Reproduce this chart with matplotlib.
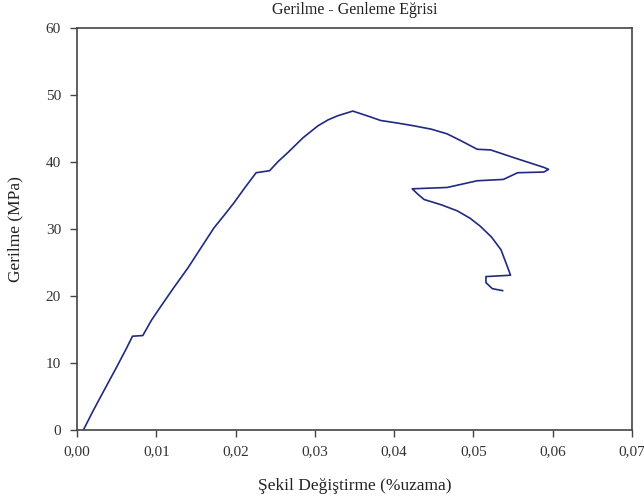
import matplotlib
matplotlib.use("Agg")
import matplotlib.pyplot as plt

strain = [0.0008, 0.0020, 0.00345, 0.0050, 0.0062, 0.0070, 0.0083, 0.0094, 0.0106, 0.0123,
          0.0140, 0.0157, 0.0173, 0.0186, 0.0198, 0.0212, 0.0226, 0.0243, 0.0254, 0.0266,
          0.0285, 0.0304, 0.0317, 0.0329, 0.0348, 0.0371, 0.0383, 0.0405, 0.0425, 0.0447,
          0.0467, 0.0484, 0.0505, 0.0522, 0.0555, 0.0589, 0.0595, 0.0589, 0.0556, 0.0538,
          0.0505, 0.0467, 0.0423, 0.0430, 0.0438, 0.0460, 0.0480, 0.0496, 0.0509, 0.0523,
          0.0535, 0.0543, 0.0547, 0.0516, 0.0516, 0.0524, 0.0537]
stress = [0.0, 2.8, 6.0, 9.4, 12.1, 14.0, 14.1, 16.4, 18.5, 21.4,
          24.2, 27.3, 30.2, 32.1, 33.9, 36.2, 38.4, 38.7, 40.1, 41.4,
          43.6, 45.4, 46.3, 46.9, 47.6, 46.7, 46.2, 45.8, 45.4, 44.9,
          44.2, 43.2, 41.9, 41.8, 40.5, 39.2, 38.9, 38.5, 38.4, 37.4,
          37.2, 36.2, 36.0, 35.2, 34.4, 33.6, 32.7, 31.6, 30.4, 28.8,
          26.9, 24.4, 23.1, 22.9, 22.0, 21.1, 20.8]

xticks = [0.00, 0.01, 0.02, 0.03, 0.04, 0.05, 0.06, 0.07]
xticklabels = ["0,00", "0,01", "0,02", "0,03", "0,04", "0,05", "0,06", "0,07"]
yticks = [0, 10, 20, 30, 40, 50, 60]

plt.rcParams['font.family'] = ['Liberation Serif', 'DejaVu Serif']

fig = plt.figure(figsize=(6.44, 4.98), dpi=100)
ax = fig.add_axes([0.1196, 0.1365, 0.8614, 0.8073])
ax.plot(strain, stress, color='#1f2a80', lw=1.2)
ax.set_xlim(0, 0.07)
ax.set_ylim(0, 60)
ax.set_xticks(xticks)
ax.set_xticklabels(xticklabels)
ax.set_yticks(yticks)
ax.tick_params(direction='out', length=5, width=1, labelsize=11, color='#444444', labelcolor='#333333')
ax.tick_params(axis='y', pad=6.5)
ax.tick_params(axis='x', pad=6)
for s in ax.spines.values():
    s.set_color('#444444')
    s.set_linewidth(1.2)
ax.set_title("Gerilme - Genleme Eğrisi", fontsize=11.5, color='#222222', pad=10)
ax.set_xlabel("Şekil Değiştirme (%uzama)", fontsize=12.5, color='#222222', labelpad=14)
ax.set_ylabel("Gerilme (MPa)", fontsize=12.5, color='#222222', labelpad=16)
fig.savefig("out.png", dpi=100)
